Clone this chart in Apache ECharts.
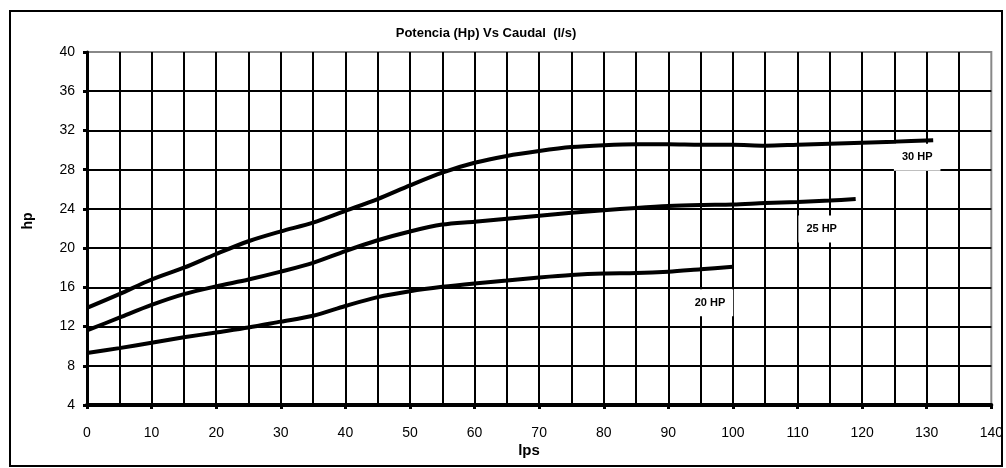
<!DOCTYPE html>
<html>
<head>
<meta charset="utf-8">
<script src="https://cdn.jsdelivr.net/npm/echarts@6/dist/echarts.min.js"></script>
<style>html,body{margin:0;padding:0;background:#fff}#c{width:1006px;height:468px}</style>
</head>
<body>
<div id="c"></div>
<script>
// ---- data ----
const titleText = 'Potencia (Hp) Vs Caudal  (l/s)';
const xName = 'lps';
const yName = 'hp';
const seriesNames = ['30 HP', '25 HP', '20 HP'];

const x30 = [0,5,10,15,20,25,30,35,40,45,50,55,60,65,70,75,80,85,90,95,100,105,110,115,120,125,131];
const y30 = [13.9,15.3,16.8,18.0,19.4,20.7,21.7,22.6,23.8,25.0,26.4,27.7,28.7,29.4,29.9,30.3,30.5,30.6,30.6,30.55,30.55,30.45,30.55,30.65,30.75,30.85,31.0];

const x25 = [0,5,10,15,20,25,30,35,40,45,50,55,60,65,70,75,80,85,90,95,100,105,110,115,119];
const y25 = [11.6,12.9,14.2,15.3,16.1,16.8,17.6,18.5,19.7,20.8,21.7,22.4,22.7,23.0,23.3,23.6,23.85,24.1,24.3,24.4,24.45,24.6,24.7,24.85,25.0];

const x20 = [0,5,10,15,20,25,30,35,40,45,50,55,60,65,70,75,80,85,90,95,100];
const y20 = [9.3,9.8,10.35,10.9,11.4,11.9,12.5,13.1,14.1,15.0,15.6,16.05,16.4,16.7,17.0,17.25,17.4,17.45,17.6,17.85,18.1];

const xTicks = {min: 0, max: 140, interval: 10};
const yTicks = {min: 4, max: 40, interval: 4};

// ---- chart ----
const FN = '"Liberation Sans", Arial, sans-serif';
const chart = echarts.init(document.getElementById('c'), null, {renderer: 'canvas'});

function pairs(xs, ys) { return xs.map((x, i) => [x, ys[i]]); }

const labelOffsets = [[-16, 17], [-34, 30], [-23, 36]];
const allX = [x30, x25, x20];
const allY = [y30, y25, y20];

const series = seriesNames.map((name, k) => {
  const xs = allX[k], ys = allY[k];
  return {
    name: name,
    type: 'line',
    data: pairs(xs, ys),
    smooth: 0.3,
    symbol: 'none',
    lineStyle: {color: '#000', width: 4},
    z: 5,
    markPoint: {
      symbol: 'rect',
      symbolSize: 1,
      itemStyle: {color: 'rgba(0,0,0,0)'},
      silent: true,
      z: 6,
      data: [{coord: [xs[xs.length - 1], ys[ys.length - 1]]}],
      label: {
        show: true,
        position: 'inside',
        offset: labelOffsets[k],
        formatter: name,
        color: '#000',
        fontFamily: FN,
        fontWeight: 'bold',
        fontSize: 11,
        backgroundColor: '#fff',
        padding: [8, 8]
      }
    }
  };
});

chart.setOption({
  animation: false,
  backgroundColor: '#fff',
  grid: {left: 87, right: 14, top: 52, bottom: 63, show: true, borderColor: '#888', borderWidth: 2, backgroundColor: 'transparent'},
  xAxis: {
    type: 'value',
    min: xTicks.min, max: xTicks.max, interval: xTicks.interval,
    axisLine: {show: true, lineStyle: {color: '#000', width: 4}},
    axisTick: {show: true, length: 4, lineStyle: {color: '#000', width: 3}},
    axisLabel: {color: '#000', fontFamily: FN, fontSize: 14, margin: 21},
    splitLine: {show: true, showMinLine: false, showMaxLine: false, lineStyle: {color: '#000', width: 2}},
    minorTick: {show: true, splitNumber: 2, length: 0},
    minorSplitLine: {show: true, lineStyle: {color: '#000', width: 2}}
  },
  yAxis: {
    type: 'value',
    min: yTicks.min, max: yTicks.max, interval: yTicks.interval,
    axisLine: {show: true, onZero: false, lineStyle: {color: '#000', width: 3}},
    axisTick: {show: true, length: 4, lineStyle: {color: '#000', width: 3}},
    axisLabel: {color: '#000', fontFamily: FN, fontSize: 14, margin: 12},
    splitLine: {show: true, showMinLine: false, showMaxLine: false, lineStyle: {color: '#000', width: 2}}
  },
  series: series,
  graphic: [
    {type: 'rect', shape: {x: 10, y: 11, width: 992, height: 455}, style: {fill: 'none', stroke: '#000', lineWidth: 2}, z: -1, silent: true},
    {type: 'text', x: 486, y: 33, style: {text: titleText, align: 'center', verticalAlign: 'middle', font: 'bold 13px ' + FN, fill: '#000'}},
    {type: 'text', x: 529, y: 451, style: {text: xName, align: 'center', verticalAlign: 'middle', font: 'bold 15px ' + FN, fill: '#000'}},
    {type: 'text', x: 28, y: 221, rotation: Math.PI / 2, style: {text: yName, align: 'center', verticalAlign: 'middle', font: 'bold 14px ' + FN, fill: '#000'}}
  ]
});
</script>
</body>
</html>
